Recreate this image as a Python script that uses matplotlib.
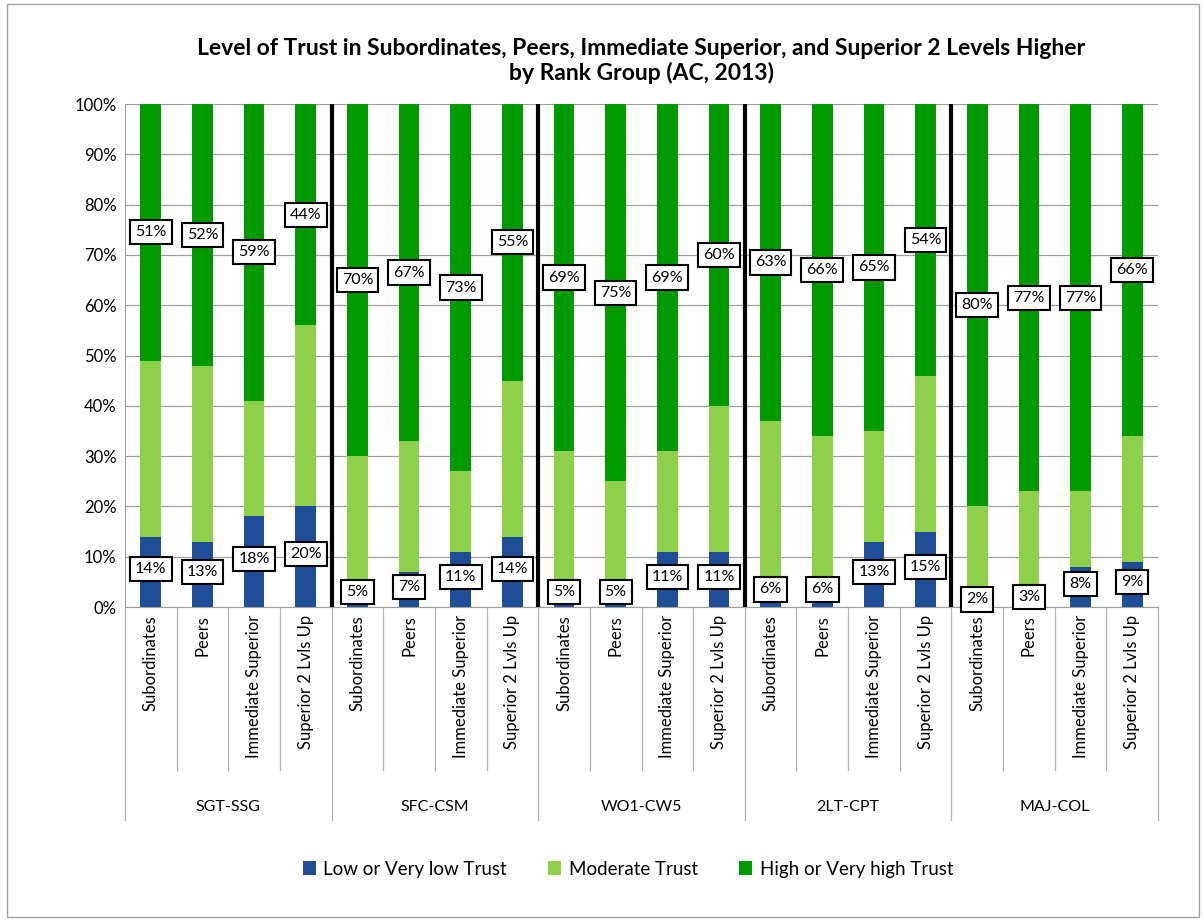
import matplotlib.pyplot as plt
import numpy as np
from matplotlib.patches import Rectangle

groups = ["SGT-SSG", "SFC-CSM", "WO1-CW5", "2LT-CPT", "MAJ-COL"]
targets = ["Subordinates", "Peers", "Immediate Superior", "Superior 2 Lvls Up"]

low = [14, 13, 18, 20, 5, 7, 11, 14, 5, 5, 11, 11, 6, 6, 13, 15, 2, 3, 8, 9]
high = [51, 52, 59, 44, 70, 67, 73, 55, 69, 75, 69, 60, 63, 66, 65, 54, 80, 77, 77, 66]
moderate = [100 - l - h for l, h in zip(low, high)]

series = ["Low or Very low Trust", "Moderate Trust", "High or Very high Trust"]
colors = ["#1f4e96", "#8fd04a", "#009a00"]

plt.rcParams["font.family"] = ["Lato", "DejaVu Sans"]

fig = plt.figure(figsize=(12.04, 9.21), dpi=100)
ax = fig.add_axes([125 / 1204, 1 - 607 / 921, 1033 / 1204, 503 / 921])

n = len(low)
x = np.arange(n)
low_a = np.array(low)
mod_a = np.array(moderate)
high_a = np.array(high)

w = 0.4
ax.bar(x, low_a, w, color=colors[0], label=series[0], zorder=2)
ax.bar(x, mod_a, w, bottom=low_a, color=colors[1], label=series[1], zorder=2)
ax.bar(x, high_a, w, bottom=low_a + mod_a, color=colors[2], label=series[2], zorder=2)

box = dict(boxstyle="square,pad=0.32", fc="white", ec="black", lw=1.5)
for i in range(n):
    ax.text(x[i], low_a[i] / 2 + 0.5, f"{low_a[i]}%", ha="center", va="center",
            fontsize=11.5, bbox=box, zorder=4, clip_on=False)
    ax.text(x[i], low_a[i] + mod_a[i] + high_a[i] / 2, f"{high_a[i]}%", ha="center",
            va="center", fontsize=11.5, bbox=box, zorder=4)

ax.set_xlim(-0.5, n - 0.5)
ax.set_ylim(0, 100)
ax.set_yticks(np.arange(0, 101, 10))
ax.set_yticklabels([f"{v}%" for v in range(0, 101, 10)], fontsize=12)
ax.yaxis.grid(True, color="#a0a0a0", lw=0.9, zorder=0)
ax.tick_params(axis="y", length=0, pad=6)
ax.set_xticks([])
for s in ["top", "right"]:
    ax.spines[s].set_visible(False)
ax.spines["left"].set_color("#a0a0a0")
ax.spines["bottom"].set_color("#a0a0a0")

# thick separators between rank groups
for g in range(1, len(groups)):
    ax.axvline(g * 4 - 0.5, color="black", lw=3, zorder=3)

# category labels and separators below the axis
trans = ax.get_xaxis_transform()
for i in range(n):
    ax.text(x[i], -0.016, targets[i % 4], rotation=90, ha="center", va="top",
            fontsize=12, transform=trans)
for b in range(n + 1):
    y_end = -0.423 if b % 4 == 0 else -0.324
    ax.plot([b - 0.5, b - 0.5], [0, y_end], color="#b0b0b0", lw=0.9,
            transform=trans, clip_on=False)
for g, name in enumerate(groups):
    ax.text(g * 4 + 1.5, -0.398, name, ha="center", va="center", fontsize=11.5,
            transform=trans)

ax.set_title("Level of Trust in Subordinates, Peers, Immediate Superior, and Superior 2 Levels Higher\nby Rank Group (AC, 2013)",
             fontsize=16.5, fontweight="bold", pad=17, linespacing=1.2)

fig.legend(loc="center", bbox_to_anchor=(628 / 1204, 1 - 869 / 921), ncol=3,
           frameon=False, fontsize=13.5, handlelength=0.7, handleheight=0.7,
           columnspacing=2.2, handletextpad=0.4)

fig.patches.append(Rectangle((0.006, 0.004), 0.99, 0.992, transform=fig.transFigure,
                             fill=False, ec="#a0a0a0", lw=1))

fig.savefig("out.png", dpi=100)
